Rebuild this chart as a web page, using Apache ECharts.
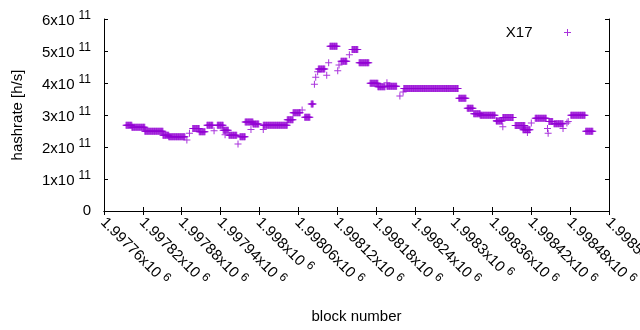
<!DOCTYPE html>
<html>
<head>
    <meta charset="utf-8"/>
    <title>X17 hashrate</title>
    <script src="https://cdn.jsdelivr.net/npm/echarts@6/dist/echarts.min.js"></script>
    <style>
        body { margin: 0; background: #fff; }
        #main { width: 640px; height: 330px; }
    </style>
</head>
<body>
<div id="main"></div>
<script>
    // runs of constant hashrate (block start, block end, h/s)
    var runStart = [1997794, 1997803, 1997823, 1997851, 1997860, 1997888, 1997892, 1997897, 1997907, 1997919,
        1997930, 1997935, 1997944, 1997947, 1997953, 1997967, 1997970, 1997978, 1997990, 1997987,
        1998006, 1998006, 1998043, 1998052, 1998066, 1998070, 1998080, 1998085, 1998087, 1998090,
        1998091, 1998104, 1998107, 1998109, 1998121, 1998123, 1998126, 1998139, 1998143, 1998154,
        1998171, 1998183, 1998197, 1998197, 1998217, 1998222, 1998223, 1998308, 1998321, 1998331,
        1998341, 1998366, 1998366, 1998376, 1998376, 1998395, 1998407, 1998414, 1998420, 1998426,
        1998447, 1998445, 1998446, 1998455, 1998469, 1998475, 1998477, 1998481, 1998504];
    var runEnd = [1997803, 1997823, 1997851, 1997860, 1997885, 1997888, 1997892, 1997907, 1997916, 1997928,
        1997930, 1997944, 1997952, 1997947, 1997965, 1997967, 1997978, 1997990, 1997999, 1997987,
        1998006, 1998043, 1998052, 1998063, 1998066, 1998078, 1998083, 1998085, 1998087, 1998090,
        1998101, 1998104, 1998107, 1998120, 1998121, 1998123, 1998135, 1998139, 1998152, 1998169,
        1998183, 1998194, 1998197, 1998212, 1998217, 1998222, 1998307, 1998319, 1998330, 1998341,
        1998364, 1998366, 1998375, 1998376, 1998392, 1998410, 1998418, 1998414, 1998420, 1998443,
        1998453, 1998445, 1998446, 1998469, 1998469, 1998475, 1998477, 1998503, 1998515];
    var runRate = [2.68e11, 2.62e11, 2.49e11, 2.37e11, 2.32e11, 2.22e11, 2.43e11, 2.58e11, 2.48e11, 2.68e11,
        2.51e11, 2.68e11, 2.52e11, 2.38e11, 2.37e11, 2.09e11, 2.32e11, 2.78e11, 2.72e11, 2.55e11,
        2.55e11, 2.68e11, 2.85e11, 3.07e11, 3.16e11, 2.93e11, 3.34e11, 3.96e11, 4.18e11, 4.35e11,
        4.44e11, 4.24e11, 4.63e11, 5.15e11, 4.38e11, 4.56e11, 4.68e11, 4.88e11, 5.05e11, 4.63e11,
        3.99e11, 3.88e11, 4.01e11, 3.90e11, 3.59e11, 3.72e11, 3.83e11, 3.52e11, 3.21e11, 3.04e11,
        2.99e11, 2.82e11, 2.81e11, 2.63e11, 2.92e11, 2.67e11, 2.54e11, 2.45e11, 2.75e11, 2.90e11,
        2.80e11, 2.58e11, 2.43e11, 2.73e11, 2.58e11, 2.75e11, 2.80e11, 2.99e11, 2.49e11];

    var xMin = 1997760, xMax = 1998540, xStep = 60;
    var yMin = 0, yMax = 6e11, yStep = 1e11;

    // one point per block inside each run
    var points = [];
    for (var i = 0; i < runStart.length; i++) {
        for (var b = runStart[i]; b <= runEnd[i]; b++) {
            points.push([b, runRate[i]]);
        }
    }

    var plus = 'path://M3,0H4V3H7V4H4V7H3V4H0V3H3Z';
    var font = 'Liberation Sans, Arial, sans-serif';
    var rich = {
        a: {fontSize: 15, fontFamily: font, color: '#000', verticalAlign: 'bottom'},
        s: {fontSize: 12, fontFamily: font, color: '#000', verticalAlign: 'bottom', padding: [0, 0, 6, 4]}
    };

    var mirror = {
        axisLine: {show: true, lineStyle: {color: '#000', width: 1}},
        axisTick: {show: true, inside: true, length: 4, lineStyle: {color: '#000'}},
        axisLabel: {show: false},
        splitLine: {show: false}
    };

    var option = {
        animation: false,
        textStyle: {fontFamily: font},
        grid: {left: 104, right: 31, top: 19, bottom: 119, outerBoundsMode: 'none', containLabel: false},
        legend: {
            right: 64, top: 20,
            align: 'right',
            itemWidth: 60, itemHeight: 7,
            icon: plus,
            textStyle: {fontSize: 15, color: '#000', fontFamily: font},
            data: ['X17']
        },
        xAxis: [{
            type: 'value', min: xMin, max: xMax, interval: xStep,
            name: 'block number', nameLocation: 'middle', nameGap: 98,
            nameTextStyle: {fontSize: 15, color: '#000'},
            axisLine: {show: true, onZero: false, lineStyle: {color: '#000', width: 1}},
            axisTick: {show: true, inside: true, length: 4, lineStyle: {color: '#000'}},
            splitLine: {show: false},
            axisLabel: {
                rotate: -45, margin: 8, showMaxLabel: true, showMinLabel: true,
                formatter: function (v) {
                    return '{a|' + parseFloat((v / 1e6).toPrecision(6)) + 'x10}{s|6}';
                },
                rich: rich
            }
        }, Object.assign({type: 'value', position: 'top', min: xMin, max: xMax, interval: xStep}, mirror)],
        yAxis: [{
            type: 'value', min: yMin, max: yMax, interval: yStep,
            name: 'hashrate [h/s]', nameLocation: 'middle', nameGap: 79,
            nameTextStyle: {fontSize: 15, color: '#000'},
            axisLine: {show: true, lineStyle: {color: '#000', width: 1}},
            axisTick: {show: true, inside: true, length: 4, lineStyle: {color: '#000'}},
            splitLine: {show: false},
            axisLabel: {
                margin: 13,
                formatter: function (v) {
                    var n = Math.round(v / 1e11);
                    return n === 0 ? '{a|0}' : '{a|' + n + 'x10}{s|11}';
                },
                rich: rich
            }
        }, Object.assign({type: 'value', position: 'right', min: yMin, max: yMax, interval: yStep}, mirror)],
        series: [{
            name: 'X17',
            type: 'scatter',
            symbol: plus,
            symbolSize: 7,
            itemStyle: {color: '#9400d3'},
            data: points
        }]
    };

    var myChart = echarts.init(document.getElementById('main'));
    myChart.setOption(option);
</script>
</body>
</html>
